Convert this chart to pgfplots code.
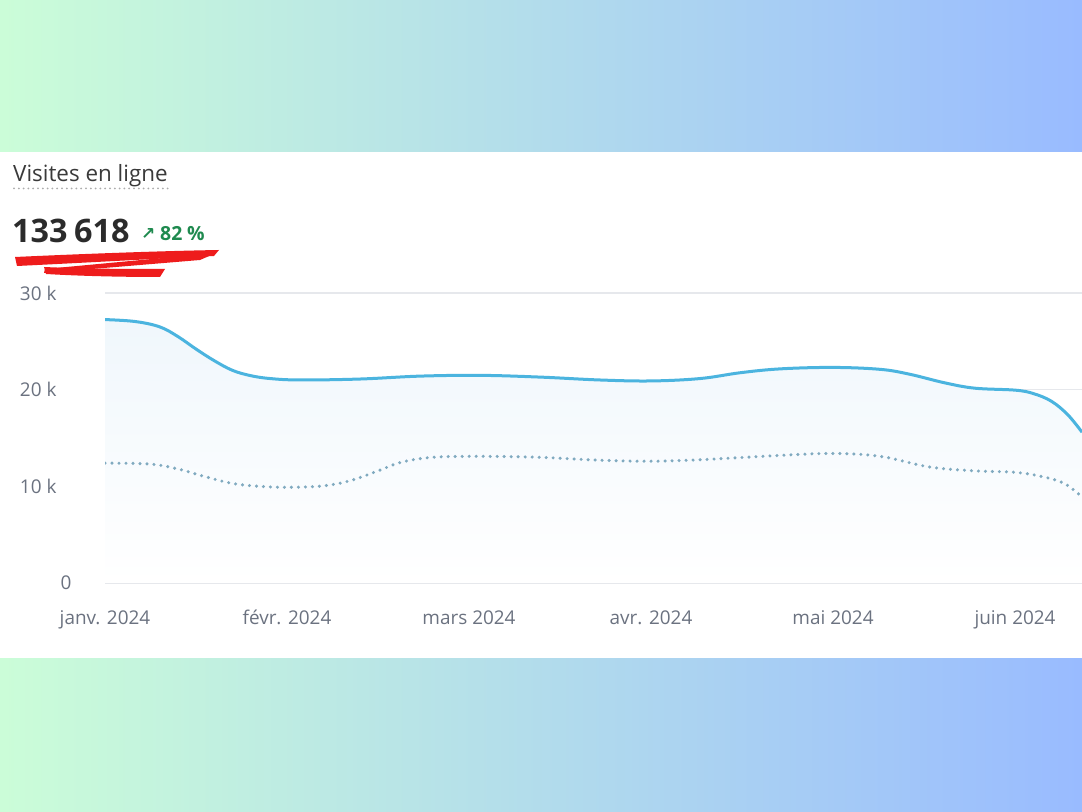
\documentclass[border=0pt]{standalone}
\usepackage{pgfplots}
\pgfplotsset{compat=1.18}
\usepackage{fontspec}
\setmainfont{Open Sans}
\newfontfamily\arrowfont{DejaVu Sans}
\definecolor{bandL}{HTML}{CBFDD8}
\definecolor{bandR}{HTML}{99BBFF}
\definecolor{lineblue}{HTML}{4BB4DF}
\definecolor{dotblue}{HTML}{80AAC0}
\definecolor{gridgray}{HTML}{E6E8EC}
\definecolor{tickgray}{HTML}{6B7280}
\definecolor{titlegray}{HTML}{3A3A3A}
\definecolor{numdark}{HTML}{2B2B2B}
\definecolor{upgreen}{HTML}{1F8A4F}
\definecolor{fillblue}{HTML}{F0F7FC}
\definecolor{scribble}{HTML}{EE1C1C}

\begin{document}
\begin{tikzpicture}[x=1bp,y=1bp]
\useasboundingbox (0,0) rectangle (1082,812);
% background bands
\shade[left color=bandL, right color=bandR] (0,659) rectangle (1082,812);
\fill[white] (0,153) rectangle (1082,660);
\shade[left color=bandL, right color=bandR] (0,0) rectangle (1082,153);

% header
\node[anchor=base west, inner sep=0pt, text=titlegray, font=\fontsize{22.5}{26}\selectfont] at (13,630) {Visites en ligne};
\draw[color=gray!65, line width=2bp, line cap=round, dash pattern=on 0pt off 4.8bp] (14,623.5) -- (172,623.5);
\node[anchor=base west, inner sep=0pt, text=numdark, font=\fontsize{32.5}{36}\selectfont\bfseries] at (12,569) {133\kern0.2em 618};
\node[anchor=base west, inner sep=0pt, text=upgreen, font=\fontsize{17}{20}\selectfont\arrowfont\bfseries] at (141,572) {↗};
\node[anchor=base west, inner sep=0pt, text=upgreen, font=\fontsize{19.5}{22}\selectfont\bfseries] at (160,571) {82\kern0.25em\%};
% red scribble
\fill[scribble] (15,555) .. controls (80,558) and (160,561) .. (219,562) -- (214,556)
   .. controls (150,553) and (80,549) .. (17,546) -- cycle;
\fill[scribble] (216,559) -- (45,543) -- (44,539) -- (200,552) -- cycle;
\fill[scribble] (44,545) .. controls (90,543) and (130,543) .. (165,543) -- (160,535)
   .. controls (120,535) and (80,536) .. (46,538) -- cycle;

\begin{axis}[
  at={(105bp,229bp)}, anchor=south west,
  scale only axis, width=977bp, height=290bp,
  xmin=0, xmax=5.368, ymin=0, ymax=30000,
  scaled y ticks=false,
  axis line style={draw=none},
  tick style={draw=none},
  ymajorgrids, major grid style={color=gridgray, line width=1.1bp},
  ytick={10000,20000,30000},
  yticklabels={10 k,20 k,30 k},
  extra y ticks={0}, extra y tick labels={0},
  extra y tick style={grid=major, yticklabel style={xshift=15bp}},
  xtick={0,1,2,3,4,5},
  xticklabels={janv. 2024,févr. 2024,mars 2024,avr. 2024,mai 2024,juin 2024},
  /pgf/number format/assume math mode=true,
  ticklabel style={font=\fontsize{19}{22}\selectfont, text=tickgray},
  yticklabel style={anchor=east, xshift=-45bp},
  xticklabel style={anchor=base, yshift=-42bp},
  clip=true,
]
\addplot[draw=none, top color=fillblue, bottom color=white, smooth, tension=0.6, forget plot] table {
x y
0 27250
0.165 27050
0.30 26500
0.40 25500
0.50 24200
0.60 23000
0.70 22000
0.80 21450
0.907 21150
1.071 21000
1.401 21100
1.731 21400
2.06 21480
2.39 21300
2.72 21000
3.0 20900
3.27 21150
3.49 21750
3.71 22150
4.0 22300
4.26 22100
4.42 21600
4.615 20700
4.78 20150
5.0 19950
5.10 19600
5.20 18800
5.29 17400
5.368 15600
} \closedcycle;
\addplot[color=lineblue, line width=3bp, smooth, tension=0.6] table {
x y
0 27250
0.165 27050
0.30 26500
0.40 25500
0.50 24200
0.60 23000
0.70 22000
0.80 21450
0.907 21150
1.071 21000
1.401 21100
1.731 21400
2.06 21480
2.39 21300
2.72 21000
3.0 20900
3.27 21150
3.49 21750
3.71 22150
4.0 22300
4.26 22100
4.42 21600
4.615 20700
4.78 20150
5.0 19950
5.10 19600
5.20 18800
5.29 17400
5.368 15600
};
\addplot[color=dotblue, line width=3.4bp, line cap=round, dash pattern=on 0pt off 7bp, smooth, tension=0.6] table {
x y
0 12400
0.247 12300
0.40 11800
0.55 11000
0.70 10300
0.85 10000
1.0 9900
1.2 10050
1.35 10600
1.50 11600
1.63 12500
1.80 13000
2.06 13100
2.39 13000
2.72 12700
3.0 12600
3.27 12750
3.71 13200
4.0 13400
4.26 13100
4.53 12000
4.78 11600
5.0 11450
5.15 11000
5.27 10300
5.368 8900
};
\end{axis}
\end{tikzpicture}
\end{document}
